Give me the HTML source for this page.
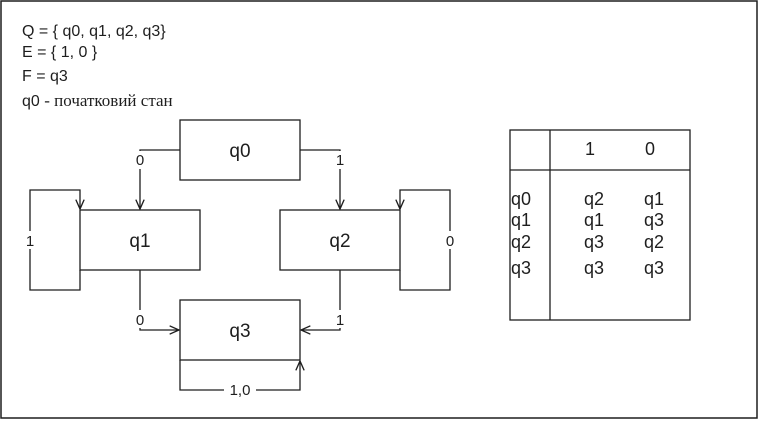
<!DOCTYPE html>
<html><head><meta charset="utf-8"><style>
body{margin:0;background:#fff;}
svg{display:block;}
text{font-family:"Liberation Sans",sans-serif;fill:#1e1e1e;}
</style></head><body>
<svg width="761" height="421" viewBox="0 0 761 421">
<defs><marker id="ah" viewBox="0 0 10 10" refX="9" refY="5" markerWidth="8" markerHeight="8" orient="auto"><path d="M0,1 L9,5 L0,9" fill="none" stroke="#1e1e1e" stroke-width="1.3"/></marker></defs>
<rect x="1" y="1" width="756" height="417" fill="none" stroke="#1e1e1e" stroke-width="1.5"/>
<g font-size="16">
<text x="22" y="36">Q = { q0, q1, q2, q3}</text>
<text x="22" y="57">E = { 1, 0 }</text>
<text x="22" y="81">F = q3</text>
<text x="22" y="106">q0 <tspan font-family="Liberation Serif, serif" font-size="17">- початковий стан</tspan></text>
</g>
<g fill="none" stroke="#1e1e1e" stroke-width="1.3">
<rect x="180" y="120" width="120" height="60"/>
<rect x="80" y="210" width="120" height="60"/>
<rect x="280" y="210" width="120" height="60"/>
<rect x="180" y="300" width="120" height="60"/>
<path d="M180,150 H140 V209" marker-end="url(#ah)"/>
<path d="M300,150 H340 V209" marker-end="url(#ah)"/>
<path d="M80,270 V290 H30 V190 H80 V209" marker-end="url(#ah)"/>
<path d="M400,270 V290 H450 V190 H400 V209" marker-end="url(#ah)"/>
<path d="M140,270 V330 H179" marker-end="url(#ah)"/>
<path d="M340,270 V330 H301" marker-end="url(#ah)"/>
<path d="M180,360 V390 H300 V361" marker-end="url(#ah)"/>
</g>
<g font-size="15" text-anchor="middle" font-family="DejaVu Sans, sans-serif">
<rect x="133" y="151" width="14" height="18" fill="#fff"/><text x="140" y="165">0</text>
<rect x="333" y="151" width="14" height="18" fill="#fff"/><text x="340" y="165">1</text>
<rect x="23" y="231" width="14" height="18" fill="#fff"/><text x="30" y="246">1</text>
<rect x="443" y="231" width="14" height="18" fill="#fff"/><text x="450" y="246">0</text>
<rect x="133" y="310" width="14" height="18" fill="#fff"/><text x="140" y="325">0</text>
<rect x="333" y="310" width="14" height="18" fill="#fff"/><text x="340" y="325">1</text>
<rect x="224" y="381" width="32" height="18" fill="#fff"/><text x="240" y="395">1,0</text>
</g>
<g font-size="19" text-anchor="middle">
<text x="240" y="157">q0</text><text x="140" y="247">q1</text><text x="340" y="247">q2</text><text x="240" y="337">q3</text>
</g>
<g>
<rect x="510" y="130" width="180" height="190" fill="none" stroke="#1e1e1e" stroke-width="1.3"/>
<line x1="510" y1="170" x2="690" y2="170" stroke="#1e1e1e" stroke-width="1.3"/>
<line x1="550" y1="130" x2="550" y2="320" stroke="#1e1e1e" stroke-width="1.3"/>
<g font-size="18">
<text x="590" y="155" text-anchor="middle">1</text><text x="650" y="155" text-anchor="middle">0</text>
<text x="511" y="205">q0</text><text x="584" y="205">q2</text><text x="644" y="205">q1</text>
<text x="511" y="226">q1</text><text x="584" y="226">q1</text><text x="644" y="226">q3</text>
<text x="511" y="248">q2</text><text x="584" y="248">q3</text><text x="644" y="248">q2</text>
<text x="511" y="274">q3</text><text x="584" y="274">q3</text><text x="644" y="274">q3</text>
</g>
</g>
</svg>
</body></html>
